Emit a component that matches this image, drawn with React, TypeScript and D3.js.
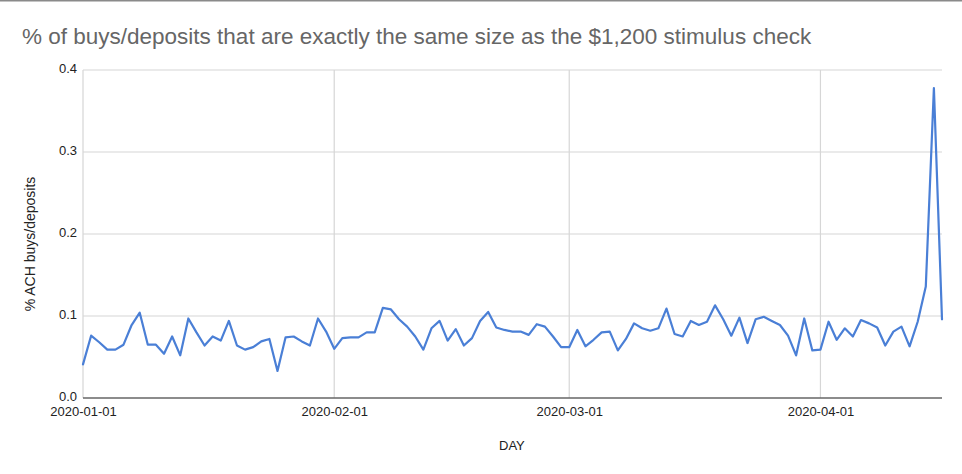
import React, { useEffect, useRef } from 'react';
import * as d3 from 'd3';

// Daily share of ACH buys/deposits equal to $1,200, starting 2020-01-01
const startDay = '2020-01-01';
const janValues = [
  0.041, 0.076, 0.068, 0.059, 0.059, 0.065, 0.089, 0.104, 0.065, 0.065,
  0.054, 0.075, 0.052, 0.097, 0.080, 0.064, 0.075, 0.070, 0.094, 0.064,
  0.059, 0.062, 0.069, 0.072, 0.033, 0.074, 0.075, 0.069, 0.064, 0.097, 0.081
];
const febValues = [
  0.060, 0.073, 0.074, 0.074, 0.080, 0.080, 0.110, 0.108, 0.096, 0.087,
  0.075, 0.059, 0.085, 0.094, 0.070, 0.084, 0.064, 0.073, 0.094, 0.105,
  0.086, 0.083, 0.081, 0.081, 0.077, 0.090, 0.087, 0.075, 0.062
];
const marValues = [
  0.062, 0.083, 0.063, 0.071, 0.080, 0.081, 0.058, 0.072, 0.091, 0.085,
  0.082, 0.085, 0.109, 0.078, 0.075, 0.094, 0.089, 0.093, 0.113, 0.096,
  0.076, 0.098, 0.067, 0.096, 0.099, 0.094, 0.089, 0.076, 0.052, 0.097, 0.058
];
const aprValues = [
  0.059, 0.093, 0.071, 0.085, 0.075, 0.095, 0.091, 0.086, 0.064, 0.081,
  0.087, 0.063, 0.093, 0.136, 0.378, 0.096
];
const xTickLabels = ['2020-01-01', '2020-02-01', '2020-03-01', '2020-04-01'];
const yTicks = [0, 0.1, 0.2, 0.3, 0.4];

interface Point {
  date: Date;
  value: number;
}

const App: React.FC = () => {
  const svgRef = useRef<SVGSVGElement>(null);
  const width = 962;
  const height = 474;

  useEffect(() => {
    if (!svgRef.current) return;
    const svg = d3.select(svgRef.current);
    svg.selectAll('*').remove();

    const parse = d3.utcParse('%Y-%m-%d');
    const start = parse(startDay) as Date;
    const values = [...janValues, ...febValues, ...marValues, ...aprValues];
    const data: Point[] = values.map((v, i) => ({ date: d3.utcDay.offset(start, i), value: v }));

    const margin = { top: 70, right: 20, bottom: 76, left: 83 };
    const xScale = d3.scaleUtc()
      .domain([start, data[data.length - 1].date])
      .range([margin.left, width - margin.right]);
    const yScale = d3.scaleLinear()
      .domain([0, 0.4])
      .range([height - margin.bottom, margin.top]);

    const font = '"Liberation Sans", Arial, sans-serif';

    // thin frame line at top of the screenshot
    svg.append('line')
      .attr('x1', 0).attr('x2', width)
      .attr('y1', 0.5).attr('y2', 0.5)
      .attr('stroke', '#8a8a8a')
      .attr('stroke-width', 2);

    // title
    svg.append('text')
      .attr('x', 22)
      .attr('y', 44)
      .style('font-family', font)
      .style('font-size', '22.5px')
      .attr('fill', '#666')
      .text('% of buys/deposits that are exactly the same size as the $1,200 stimulus check');

    // horizontal gridlines
    svg.append('g')
      .selectAll('line')
      .data(yTicks.slice(1))
      .enter()
      .append('line')
      .attr('x1', margin.left)
      .attr('x2', width - margin.right)
      .attr('y1', d => yScale(d))
      .attr('y2', d => yScale(d))
      .attr('stroke', '#d6d6d6')
      .attr('stroke-width', 1.2);

    // vertical gridlines at month starts
    const monthTicks = xTickLabels.map(s => parse(s) as Date);
    svg.append('g')
      .selectAll('line')
      .data(monthTicks)
      .enter()
      .append('line')
      .attr('x1', d => xScale(d))
      .attr('x2', d => xScale(d))
      .attr('y1', margin.top)
      .attr('y2', yScale(0))
      .attr('stroke', '#d6d6d6')
      .attr('stroke-width', 1.2);

    // baseline
    svg.append('line')
      .attr('x1', margin.left)
      .attr('x2', width - margin.right)
      .attr('y1', yScale(0))
      .attr('y2', yScale(0))
      .attr('stroke', '#666')
      .attr('stroke-width', 1.6);

    // y axis labels
    const yAxis = d3.axisLeft(yScale)
      .tickValues(yTicks)
      .tickSize(0)
      .tickPadding(6)
      .tickFormat(d => d3.format('.1f')(d as number));
    const yG = svg.append('g')
      .attr('transform', `translate(${margin.left},0)`)
      .call(yAxis);
    yG.select('.domain').remove();
    yG.selectAll('text')
      .style('font-family', font)
      .style('font-size', '13px')
      .attr('fill', '#222')
      .attr('dy', '0.2em');

    // x axis labels
    const xAxis = d3.axisBottom(xScale)
      .tickValues(monthTicks)
      .tickSize(0)
      .tickPadding(9)
      .tickFormat(d => d3.utcFormat('%Y-%m-%d')(d as Date));
    const xG = svg.append('g')
      .attr('transform', `translate(0,${yScale(0)})`)
      .call(xAxis);
    xG.select('.domain').remove();
    xG.selectAll('text')
      .style('font-family', font)
      .style('font-size', '13px')
      .attr('fill', '#222');

    // axis titles
    svg.append('text')
      .attr('x', 499)
      .attr('y', 450)
      .style('font-family', font)
      .style('font-size', '13px')
      .attr('fill', '#222')
      .text('DAY');

    svg.append('text')
      .attr('transform', 'rotate(-90)')
      .attr('x', -244)
      .attr('y', 35)
      .style('text-anchor', 'middle')
      .style('font-family', font)
      .style('font-size', '14px')
      .attr('fill', '#222')
      .text('% ACH buys/deposits');

    // series line
    const lineGenerator = d3.line<Point>()
      .x(d => xScale(d.date))
      .y(d => yScale(d.value));

    svg.append('path')
      .datum(data)
      .attr('d', lineGenerator)
      .attr('fill', 'none')
      .attr('stroke', '#4a7fd6')
      .attr('stroke-width', 2.2)
      .attr('stroke-linejoin', 'round')
      .attr('stroke-linecap', 'round');
  }, []);

  return (
    <svg
      ref={svgRef}
      width={width}
      height={height}
      style={{ position: 'absolute', left: 0, top: 0, background: '#fff' }}
    />
  );
};

export default App;
